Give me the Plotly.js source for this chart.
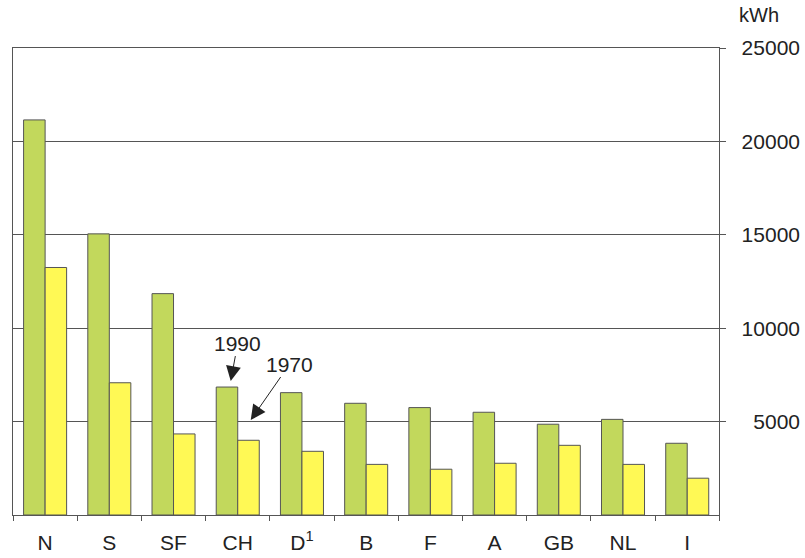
<!DOCTYPE html>
<html>
<head>
<meta charset="utf-8">
<script src="https://cdn.plot.ly/plotly-3.0.1.min.js"></script>
<style>html,body{margin:0;padding:0;background:#fff;}</style>
</head>
<body>
<div id="chart" style="width:805px;height:558px;"></div>
<script>
const categories = ['N', 'S', 'SF', 'CH', 'D<sup>1</sup>', 'B', 'F', 'A', 'GB', 'NL', 'I'];
const values1990 = [21150, 15050, 11850, 6850, 6550, 5980, 5750, 5500, 4860, 5120, 3840];
const values1970 = [13250, 7080, 4340, 4000, 3410, 2710, 2450, 2770, 3730, 2710, 1970];
const yTicks = [5000, 10000, 15000, 20000, 25000];
const yTickText = ['5000', '10000', '15000', '20000', '25000'];

const fontFam = 'Liberation Sans, Arial, Helvetica, sans-serif';
const txt = '#222';

const traces = [
  {type: 'bar', name: '1990', x: categories, y: values1990,
   marker: {color: '#c2d85c', line: {color: '#555', width: 1}}, hoverinfo: 'y'},
  {type: 'bar', name: '1970', x: categories, y: values1970,
   marker: {color: '#fff955', line: {color: '#555', width: 1}}, hoverinfo: 'y'},
  {type: 'scatter', x: [categories[0]], y: [0], yaxis: 'y2', mode: 'markers',
   marker: {opacity: 0, size: 1}, showlegend: false, hoverinfo: 'skip'}
];

const layout = {
  width: 805, height: 558,
  margin: {l: 13, r: 5, t: 48, b: 43, autoexpand: false},
  paper_bgcolor: '#fff', plot_bgcolor: '#fff',
  showlegend: false,
  barmode: 'group', bargap: 0.33, bargroupgap: 0,
  font: {family: fontFam, color: txt, size: 21},
  xaxis: {
    domain: [0, 0.8975],
    type: 'category', automargin: false,
    range: [-0.5, categories.length - 0.5],
    showline: true, mirror: true, linecolor: '#555', linewidth: 1,
    ticks: 'outside', tickson: 'boundaries', ticklen: 5, tickcolor: '#555',
    ticklabelstandoff: 9,
    tickfont: {size: 21, color: txt, family: fontFam},
    showgrid: false, zeroline: false
  },
  yaxis: {
    side: 'right', anchor: 'x', automargin: false,
    range: [0, 25000],
    tickvals: yTicks,
    showticklabels: false,
    ticks: 'outside', ticklen: 6, tickcolor: '#555',
    showline: true, mirror: true, linecolor: '#555', linewidth: 1,
    showgrid: true, gridcolor: '#555', gridwidth: 1,
    zeroline: false
  },
  yaxis2: {
    overlaying: 'y', side: 'left', anchor: 'free', position: 1, automargin: false,
    range: [0, 25000],
    tickvals: yTicks, ticktext: yTickText,
    ticks: '', showline: false, showgrid: false, zeroline: false,
    tickfont: {size: 21, color: txt, family: fontFam}
  },
  annotations: [
    {xref: 'paper', yref: 'paper', x: 0.948, y: 1.043, xanchor: 'center', yanchor: 'bottom',
     text: 'kWh', showarrow: false, font: {size: 20, color: txt, family: fontFam}},
    {xref: 'x', yref: 'y', x: 3, y: 7170, xshift: -7, text: '1990', showarrow: true,
     arrowhead: 2, arrowsize: 3, arrowwidth: 1, arrowcolor: '#222',
     ax: 7, ay: -38, font: {size: 21, color: txt, family: fontFam}},
    {xref: 'x', yref: 'y', x: 3, y: 5085, xshift: 13, text: '1970', showarrow: true,
     arrowhead: 2, arrowsize: 3, arrowwidth: 1, arrowcolor: '#222',
     ax: 39, ay: -56, font: {size: 21, color: txt, family: fontFam}}
  ]
};

Plotly.newPlot('chart', traces, layout, {staticPlot: true, displayModeBar: false});
</script>
</body>
</html>
